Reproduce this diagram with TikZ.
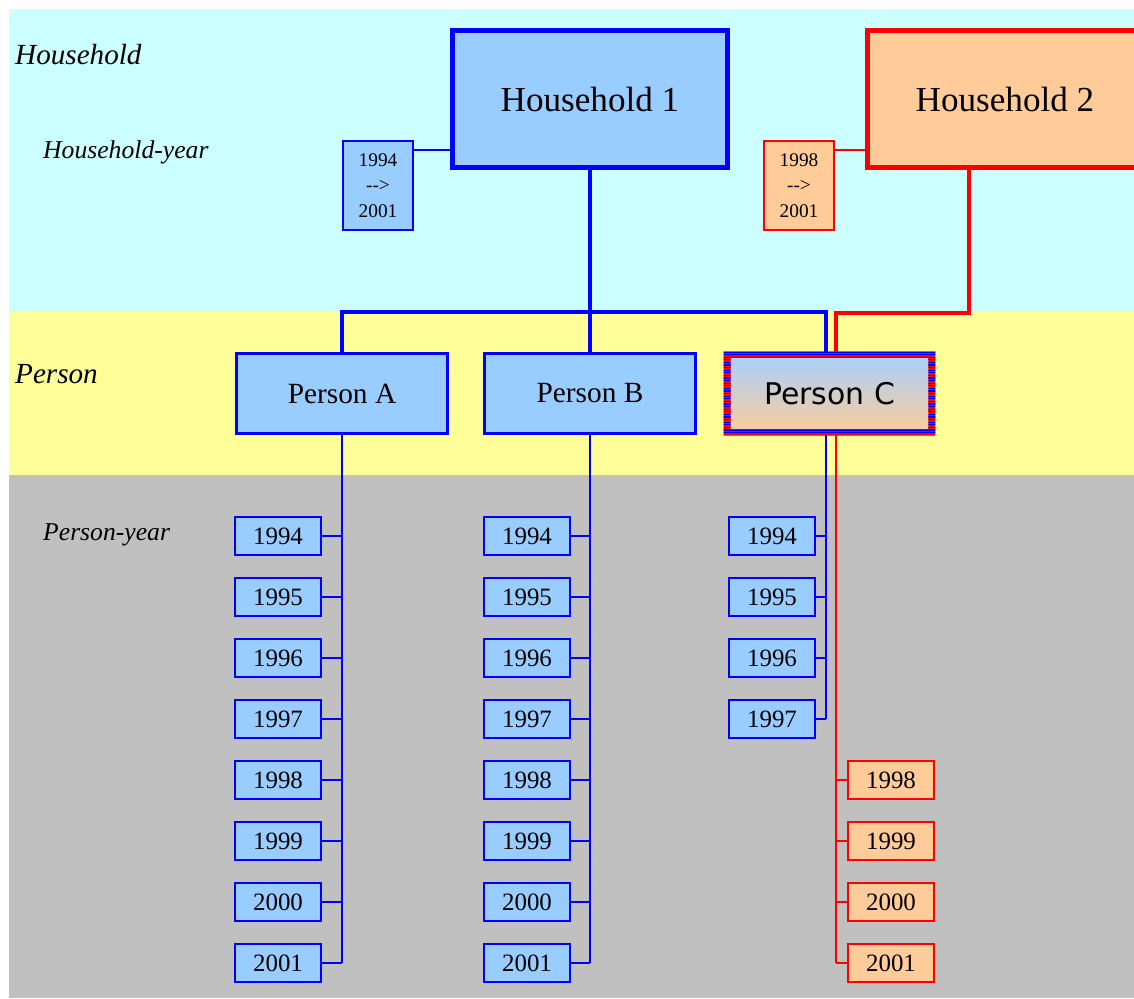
\documentclass[tikz,border=0pt]{standalone}
\usepackage{fontspec}
\setmainfont{Liberation Serif}
\newfontfamily\verdanafont{DejaVu Sans}
\definecolor{hhcyan}{HTML}{CCFFFF}
\definecolor{pyellow}{HTML}{FFFF99}
\definecolor{pygray}{HTML}{C0C0C0}
\definecolor{lblue}{HTML}{99CCFF}
\definecolor{lorange}{HTML}{FFCC99}
\begin{document}
\begin{tikzpicture}[
        x=0.02cm, y=-0.02cm,
        hhbox/.style={rectangle, line width=2.8pt, minimum width=5.5cm, minimum height=2.74cm, inner sep=0pt, font=\fontsize{20}{24}\selectfont},
        hyear/.style={rectangle, line width=1.1pt, minimum width=1.4cm, minimum height=1.78cm, inner sep=0pt, align=center, font=\fontsize{11}{14.5}\selectfont},
        person/.style={rectangle, draw=blue, fill=lblue, line width=1.7pt, minimum width=4.24cm, minimum height=1.6cm, inner sep=0pt, font=\fontsize{16.7}{20}\selectfont},
        pyear/.style={rectangle, draw=blue, fill=lblue, line width=1.1pt, minimum width=1.72cm, minimum height=0.76cm, inner sep=0pt, font=\fontsize{14.2}{17}\selectfont},
        ryear/.style={pyear, draw=red, fill=lorange},
        level/.style={anchor=west, font=\itshape\fontsize{16.6}{20}\selectfont},
        sublevel/.style={anchor=west, font=\itshape\fontsize{14.6}{18}\selectfont},
        hhline/.style={line width=2pt},
        pyline/.style={line width=1.1pt}
    ]
    \useasboundingbox (0,0) rectangle (1134,999);

    % Level bands
    \fill[hhcyan] (9,9) rectangle (1134,312);
    \fill[pyellow] (9,312) rectangle (1134,475);
    \fill[pygray] (9,475) rectangle (1134,998);

    \node[level] (lhh) at (9,55) {Household};
    \node[sublevel] (lhy) at (37,152) {Household-year};
    \node[level] (lp) at (9,374) {Person};
    \node[sublevel] (lpy) at (37,535) {Person-year};

    % Households
    \node[hhbox, draw=blue, fill=lblue] (hh1) at (590,99) {Household 1};
    \node[hhbox, draw=red, fill=lorange] (hh2) at (1005,99) {Household 2};
    \node[hyear, draw=blue, fill=lblue] (hy1) at (378,185.5) {1994\\-{}->\\2001};
    \node[hyear, draw=red, fill=lorange] (hy2) at (799,185.5) {1998\\-{}->\\2001};
    \draw[pyline, blue] ([yshift=-0.2cm]hy1.north east) -- ([yshift=-0.2cm]hy1.north east -| hh1.west);
    \draw[pyline, red] ([yshift=-0.2cm]hy2.north east) -- ([yshift=-0.2cm]hy2.north east -| hh2.west);

    % Persons
    \node[person] (pA) at (342,393.5) {Person A};
    \node[person] (pB) at (590,393.5) {Person B};
    \node[rectangle, top color=lblue!90!white, bottom color=lorange, minimum width=4.22cm, minimum height=1.66cm, inner sep=0pt,
          font=\verdanafont\fontsize{17}{20}\selectfont] (pC) at (829.5,393.5) {Person C};
    \begin{scope}[even odd rule]
        \fill[red] (pC.north west) rectangle (pC.south east)
            ([shift={(7,6)}]pC.north west) rectangle ([shift={(-7,-6)}]pC.south east);
        \clip (pC.north west) rectangle (pC.south east)
            ([shift={(7,6)}]pC.north west) rectangle ([shift={(-7,-6)}]pC.south east);
        \foreach \k in {0,...,33}
            \draw[blue, line width=0.75pt] (715,{352+2.6*\k}) -- (945,{352+2.6*\k});
    \end{scope}

    \coordinate (cbT) at ([xshift=-0.07cm]pC.north);
    \coordinate (crT) at ([xshift=0.13cm]pC.north);
    \coordinate (cbB) at ([xshift=-0.07cm]pC.south);
    \coordinate (crB) at ([xshift=0.13cm]pC.south);
    \coordinate (hh2d) at ([xshift=-0.72cm]hh2.south);

    % Household to person links
    \draw[hhline, blue] (pA.north) -- (pA.north |- 0,312) -- (cbT |- 0,312) -- (cbT);
    \draw[hhline, blue] (hh1.south) -- (pB.north);
    \draw[hhline, red] (hh2d) -- (hh2d |- 0,313) -- (crT |- 0,313) -- (crT);

    % Person years
    \foreach \yr [count=\i] in {1994,...,2001} {
        \node[pyear] (a\yr) at (278,{475+61*\i}) {\yr};
        \draw[pyline, blue] (a\yr.east) -- (a\yr.east -| pA.south);
        \node[pyear] (b\yr) at (527,{475+61*\i}) {\yr};
        \draw[pyline, blue] (b\yr.east) -- (b\yr.east -| pB.south);
    }
    \foreach \yr [count=\i from 5] in {1998,...,2001} {
        \node[ryear] (c\yr) at (891,{475+61*\i}) {\yr};
        \draw[pyline, red] (c\yr.west) -- (c\yr.west -| crB);
    }
    \foreach \yr [count=\i] in {1994,...,1997} {
        \node[pyear] (c\yr) at (772,{475+61*\i}) {\yr};
        \draw[pyline, blue] (c\yr.east) -- (c\yr.east -| cbB);
    }
    \draw[pyline, blue] (pA.south) -- (a2001.east -| pA.south);
    \draw[pyline, blue] (pB.south) -- (b2001.east -| pB.south);
    \draw[pyline, red] (crB) -- (c2001.west -| crB);
    \draw[pyline, blue] (cbB) -- (c1997.east -| cbB);

\end{tikzpicture}
\end{document}
